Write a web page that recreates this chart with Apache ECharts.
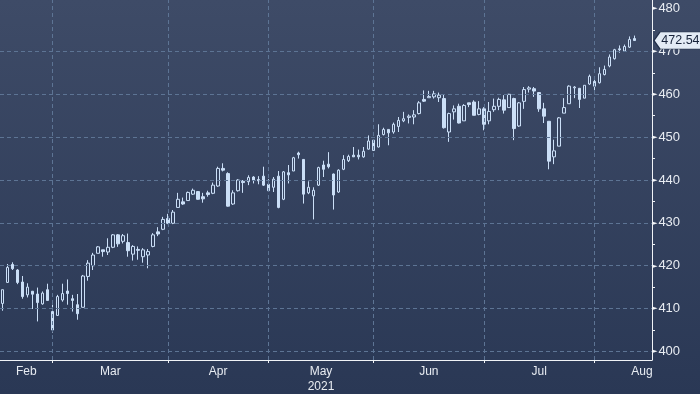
<!DOCTYPE html>
<html><head><meta charset="utf-8">
<script src="https://cdn.jsdelivr.net/npm/echarts@6/dist/echarts.min.js"></script>
<style>
html,body{margin:0;padding:0;background:#2f3d59;}
#c{width:700px;height:394px;background:linear-gradient(to bottom,#3e4b67 0%,#2a3855 100%);}
</style>
</head><body><div id="c"></div>
<script>
// ---- data ----
const months = ['Feb','Mar','Apr','May','Jun','Jul','Aug'];
const monthDays = [10,23,20,21,22,22,9];
const yearLabel = '2021';
const yTicks = [400,410,420,430,440,450,460,470,480];
const lastPrice = 472.54;
const padSlots = 3;

const opens = [411.2,416.1,420.3,419.0,416.2,413.2,414.05,413.4,411.1,414.4,
409.3,408.4,412.0,414.1,412.3,410.9,410.3,417.5,420.0,422.9,
423.7,423.2,424.3,427.2,425.7,425.4,422.7,423.8,422.1,422.5,
424.5,427.9,428.5,431.0,429.9,433.6,434.9,435.2,436.7,437.3,
436.1,437.0,436.9,438.6,442.7,441.5,434.4,437.5,439.7,439.6,
440.7,440.1,440.9,439.0,438.3,440.9,435.5,441.7,442.1,446.3,
444.8,437.0,436.3,438.8,443.5,443.7,441.4,437.2,442.5,444.5,
445.8,445.8,445.4,447.2,449.3,447.7,450.6,451.8,451.2,452.5,
453.8,454.6,454.7,455.5,458.8,459.2,459.4,459.2,459.0,451.2,
455.9,457.2,453.8,458.0,458.2,455.3,456.6,453.8,456.4,457.2,
458.7,456.9,459.0,452.6,458.35,461.2,461.3,460.4,456.6,453.7,
445.4,447.9,455.6,457.8,461.5,461.4,459.1,462.4,463.0,462.7,
464.6,466.6,468.3,470.6,470.1,471.0,473.0];
const closes = [414.4,419.6,419.3,416.1,412.8,415.0,413.35,411.4,413.6,411.9,
405.0,412.8,413.5,413.5,411.9,408.8,417.6,420.6,422.5,424.4,
423.3,424.3,427.2,425.1,427.0,423.5,424.5,423.6,423.7,423.3,
427.2,427.4,430.8,429.9,432.5,435.5,434.4,437.1,437.6,435.5,
435.6,436.6,438.8,442.7,442.3,433.9,437.0,440.0,439.4,440.6,
440.0,439.8,438.8,437.5,440.2,433.6,441.9,441.2,445.2,445.9,
436.7,438.3,437.6,442.9,442.5,443.1,436.5,442.3,444.8,445.5,
445.4,445.4,446.7,449.1,446.9,450.4,451.8,451.0,453.0,453.9,
454.3,454.9,455.2,458.0,458.4,459.5,460.1,459.8,452.2,455.5,
456.6,453.3,457.4,457.6,455.1,456.6,453.0,456.0,457.2,458.8,
456.3,460.0,452.0,458.0,461.1,461.5,460.75,456.6,454.9,444.4,
446.8,454.5,456.9,461.9,461.7,458.8,462.1,464.2,461.9,464.8,
465.8,468.7,470.4,470.4,471.15,472.8,472.54];
const lows = [409.5,416.0,419.0,415.7,412.3,412.6,409.9,407.0,410.9,411.9,
404.4,408.4,411.6,410.9,409.3,407.4,410.3,416.5,419.0,422.9,
422.1,422.5,424.1,424.4,425.2,422.1,421.2,421.4,420.7,419.4,
424.3,426.9,428.3,429.7,429.7,433.5,434.2,435.2,436.5,435.4,
434.7,436.1,436.7,438.4,442.0,433.8,434.2,437.3,437.0,438.8,
439.2,439.0,438.6,437.2,437.2,433.4,435.3,439.2,442.1,445.0,
434.5,436.7,430.8,438.6,440.7,442.7,433.1,437.0,442.3,444.2,
445.4,444.8,445.2,447.1,446.9,447.6,450.4,448.1,450.8,451.2,
453.5,453.2,453.0,455.3,458.2,459.2,459.0,458.2,452.0,448.9,
454.1,453.2,453.8,457.0,455.1,455.1,451.6,453.0,455.9,456.3,
455.5,456.9,449.3,452.4,456.6,460.4,459.4,455.9,453.3,442.5,
443.7,447.9,455.6,457.8,459.1,456.8,459.1,462.2,460.0,462.5,
464.4,466.3,468.1,469.7,470.0,470.8,472.5];
const highs = [414.4,420.4,420.8,419.2,417.6,415.9,414.1,414.9,414.0,415.8,
410.9,413.2,415.8,416.8,413.2,413.4,417.85,421.3,423.0,424.6,
423.7,426.4,427.4,427.4,427.4,427.5,424.8,424.5,424.1,423.9,
427.6,429.0,431.4,432.1,433.0,437.0,435.9,437.3,438.0,437.4,
437.0,437.5,439.4,443.1,443.9,441.8,437.6,440.2,440.0,441.1,
440.9,440.9,443.1,440.2,440.7,442.1,442.1,443.5,445.4,446.6,
444.9,439.7,438.3,443.1,444.5,446.5,441.5,442.5,445.8,445.9,
447.7,447.1,447.7,450.4,449.4,453.0,452.2,451.8,453.4,454.7,
455.9,455.3,456.3,458.4,460.9,460.8,460.8,460.4,460.0,455.7,
457.4,457.8,457.7,458.0,458.6,458.4,457.0,458.2,459.0,459.2,
459.8,460.1,459.2,458.2,461.7,461.9,461.7,460.5,458.0,453.7,
449.4,454.7,459.1,462.1,461.9,461.4,462.1,464.6,464.0,466.3,
466.7,469.3,470.6,471.4,471.6,473.5,473.7];

// ---- derived structures ----
const categories = [];
const monthStarts = [];
months.forEach((m, i) => {
  monthStarts.push(categories.length);
  for (let d = 1; d <= monthDays[i]; d++) categories.push(m + ' ' + d);
});
for (let p = 1; p <= padSlots; p++) categories.push('pad' + p);
const N = categories.length;
const lastIdx = opens.length - 1;
const candles = opens.map((o, i) => [o, closes[i], lows[i], highs[i]]);
const boundaries = monthStarts.slice(1);

const labelPos = {};
months.forEach((m, i) => {
  const s = i === 0 ? -0.5 : monthStarts[i];
  const e = i === months.length - 1 ? N - 0.5 : monthStarts[i + 1];
  let pos = (s + e) / 2;
  if (i === months.length - 1) pos = N - 2.5;
  labelPos[pos.toFixed(2)] = m === 'May' ? m + '\n' + yearLabel : m;
});
const labelValues = Object.keys(labelPos).map(Number);
const minorTicks = yTicks.slice(0, -1).map((v, i) => (v + yTicks[i + 1]) / 2);

const FONT = 'Liberation Sans, Arial, sans-serif';
const TXT = '#e8ecf2';
const CANDLE = '#cbdff7';
const GRIDC = '#5d7494';
const AXISC = '#f0f3f7';

const chart = echarts.init(document.getElementById('c'), null, {renderer: 'canvas'});
chart.setOption({
  animation: false,
  backgroundColor: 'transparent',
  textStyle: {fontFamily: FONT},
  grid: {left: -1.5, right: 48, top: 0, bottom: 34, containLabel: false},
  xAxis: [
    {type: 'category', data: categories, show: false, boundaryGap: true,
     axisLine: {onZero: false}},
    {type: 'value', min: -0.5, max: N - 0.5, position: 'bottom',
     axisLine: {show: true, onZero: false, lineStyle: {color: AXISC, width: 1}},
     axisTick: {show: true, customValues: boundaries, length: 3, lineStyle: {color: AXISC}},
     splitLine: {show: false},
     axisLabel: {customValues: labelValues, margin: 4, color: TXT, fontSize: 12, lineHeight: 15,
       fontFamily: FONT,
       formatter: v => labelPos[Number(v).toFixed(2)] || ''}}
  ],
  yAxis: {
    type: 'value', position: 'right', min: 398, max: 482,
    axisLine: {show: true, onZero: false, lineStyle: {color: AXISC, width: 1}},
    axisTick: {show: true, inside: false, customValues: minorTicks, length: 3, lineStyle: {color: AXISC}},
    splitLine: {show: false},
    axisLabel: {customValues: yTicks, margin: 0,
      formatter: v => '{t|\u25BA}{v|' + v + '}',
      rich: {
        t: {fontSize: 7, color: '#f4f6f9', fontFamily: 'DejaVu Sans', padding: [0, 1, 0, 0]},
        v: {fontSize: 13, color: TXT, fontFamily: FONT}
      }}
  },
  series: [
    {
      type: 'line', xAxisIndex: 1, yAxisIndex: 0, data: [], z: 1, silent: true,
      markLine: {
        silent: true, symbol: 'none', animation: false,
        label: {show: false},
        lineStyle: {type: [4, 3], color: GRIDC, width: 1},
        data: yTicks.filter(v => v < 480).map(v => ({yAxis: v}))
          .concat(boundaries.map(b => ({xAxis: b})))
      }
    },
    {
      type: 'line', xAxisIndex: 1, yAxisIndex: 0, data: [], z: 4, silent: true,
      markLine: {
        silent: true, symbol: 'none', animation: false,
        label: {show: false},
        lineStyle: {type: 'solid', color: AXISC, width: 1},
        data: [{xAxis: N - 0.5}]
      }
    },
    {
      type: 'candlestick', xAxisIndex: 0, yAxisIndex: 0, z: 3,
      data: candles, barWidth: 3,
      itemStyle: {color: 'transparent', color0: CANDLE, borderColor: CANDLE, borderColor0: CANDLE, borderWidth: 1},
      markPoint: {
        silent: true, animation: false,
        symbol: 'path://M0,8L6,0L47,0L47,16L6,16Z',
        symbolSize: [47, 17], symbolKeepAspect: false,
        symbolOffset: [43, 0],
        itemStyle: {color: '#e3ebf5', borderColor: '#23304a', borderWidth: 1},
        label: {show: true, color: '#17233a', fontSize: 12.5, fontFamily: FONT, offset: [3, 0],
          formatter: () => lastPrice.toFixed(2)},
        data: [{coord: [categories[lastIdx], lastPrice], value: lastPrice}]
      }
    }
  ]
});
</script>
</body></html>
